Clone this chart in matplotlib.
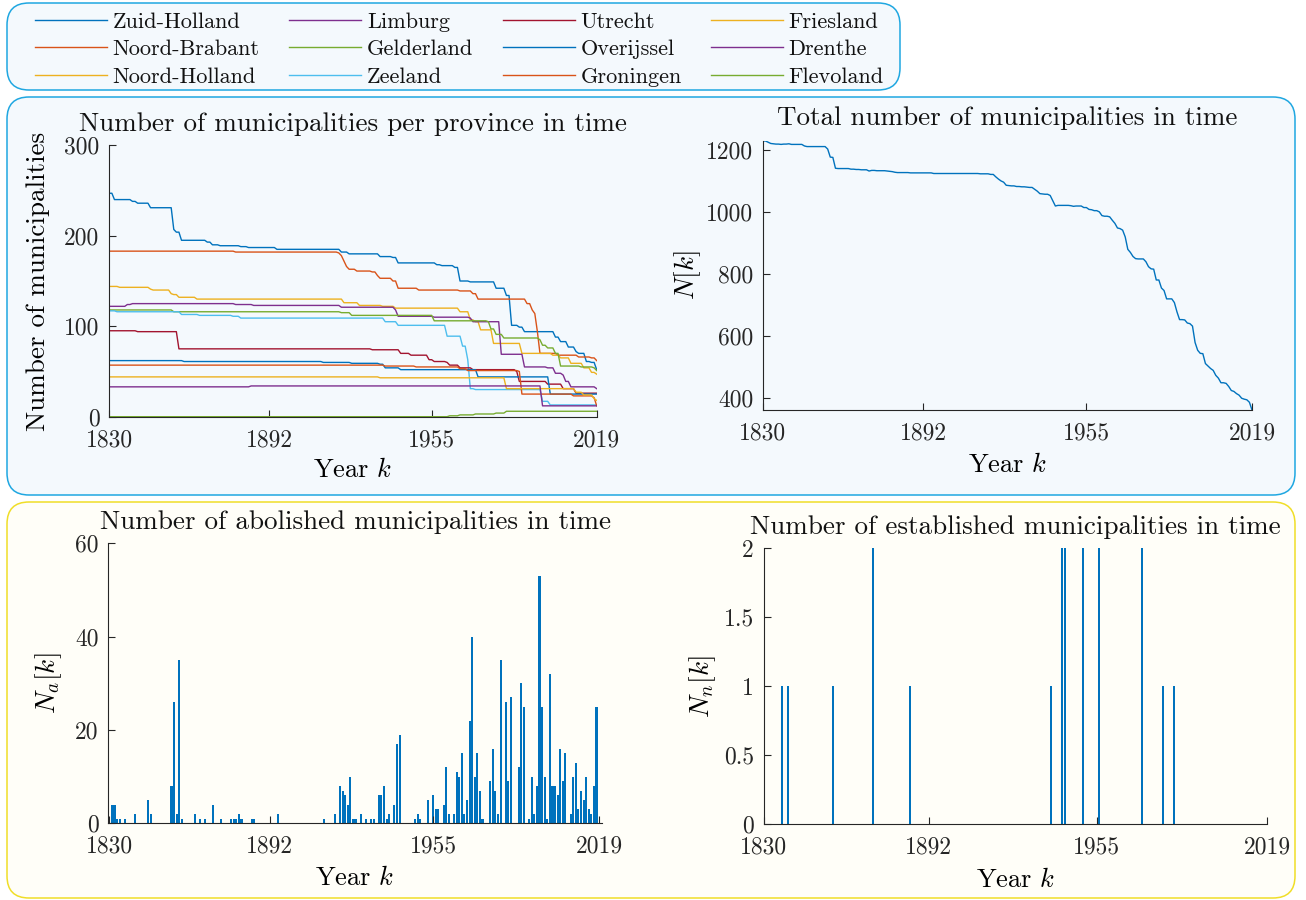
import numpy as np
import matplotlib
matplotlib.use("Agg")
import matplotlib.pyplot as plt
from matplotlib.patches import FancyBboxPatch
from matplotlib.transforms import IdentityTransform

# ---------------------------------------------------------------- data
YEARS = np.arange(1830, 2020)

PROVINCES = ["Zuid-Holland", "Noord-Brabant", "Noord-Holland", "Limburg",
             "Gelderland", "Zeeland", "Utrecht", "Overijssel", "Groningen",
             "Friesland", "Drenthe", "Flevoland"]

# (year from which the count holds, number of municipalities)
zuid_holland_years = [1830, 1832, 1839, 1841, 1846, 1855, 1856, 1858, 1868, 1870,
                      1873, 1881, 1884, 1895, 1920, 1923, 1935, 1940, 1942, 1957,
                      1959, 1964, 1966, 1970, 1980, 1984, 1986, 1989, 1991, 2003,
                      2005, 2008, 2011, 2012, 2015, 2017, 2019]
zuid_holland_counts = [247, 240, 238, 236, 231, 207, 204, 195, 193, 190,
                       189, 188, 187, 185, 182, 180, 177, 176, 170, 168,
                       167, 165, 150, 149, 142, 134, 101, 99, 94, 88,
                       83, 77, 72, 70, 61, 60, 52]

noord_brabant_years = [1830, 1879, 1919, 1920, 1921, 1922, 1923, 1926, 1932, 1934,
                       1935, 1940, 1942, 1950, 1966, 1971, 1973, 1992, 1994, 1995,
                       1996, 1997, 2004, 2012, 2017, 2019]
noord_brabant_counts = [183, 182, 181, 178, 172, 166, 163, 161, 160, 156,
                        153, 150, 142, 140, 139, 136, 130, 125, 118, 114,
                        94, 70, 68, 66, 65, 62]

noord_holland_years = [1830, 1834, 1846, 1847, 1854, 1855, 1857, 1864, 1921, 1927,
                       1936, 1941, 1966, 1970, 1972, 1974, 1979, 1990, 2002, 2005,
                       2009, 2014, 2017, 2019]
noord_holland_counts = [144, 143, 141, 140, 136, 135, 132, 130, 126, 123,
                        122, 120, 116, 107, 105, 96, 81, 70, 68, 65,
                        59, 54, 49, 47]

limburg_years = [1830, 1837, 1839, 1879, 1886, 1920, 1941, 1942, 1956, 1970,
                 1971, 1982, 1991, 2000, 2003, 2006, 2007, 2009, 2019]
limburg_counts = [122, 124, 125, 124, 123, 121, 118, 111, 110, 109,
                  105, 69, 55, 54, 48, 46, 39, 33, 31]

gelderland_years = [1830, 1855, 1920, 1924, 1956, 1977, 1978, 1980, 1983, 1997,
                    1998, 2000, 2003, 2005, 2013, 2018, 2019]
gelderland_counts = [118, 116, 115, 112, 106, 105, 97, 91, 87, 85,
                     79, 76, 70, 56, 55, 54, 51]

zeeland_years = [1830, 1833, 1858, 1865, 1878, 1881, 1937, 1942, 1961, 1967,
                 1969, 1970, 1972, 1998, 2001]
zeeland_counts = [117, 116, 113, 112, 111, 109, 105, 101, 89, 78,
                  63, 31, 30, 17, 13]

utrecht_years = [1830, 1841, 1857, 1932, 1943, 1947, 1954, 1956, 1961, 1962,
                 1966, 1971, 1988, 1989, 2000, 2006, 2011]
utrecht_counts = [95, 94, 75, 74, 70, 68, 63, 61, 60, 57,
                  54, 52, 50, 39, 36, 31, 26]

overijssel_years = [1830, 1859, 1913, 1924, 1935, 1937, 1943, 1973, 2001]
overijssel_counts = [62, 61, 60, 59, 58, 54, 52, 44, 25]

groningen_years = [1830, 1937, 1949, 1966, 1969, 1989, 1990, 2010, 2018, 2019]
groningen_counts = [57, 56, 55, 53, 51, 50, 25, 23, 21, 12]

friesland_years = [1830, 1935, 1984, 2011, 2014, 2018, 2019]
friesland_counts = [44, 43, 31, 27, 24, 20, 18]

drenthe_years = [1830, 1885, 1998]
drenthe_counts = [33, 34, 12]

flevoland_years = [1830, 1962, 1966, 1972, 1980, 1984]
flevoland_counts = [0, 1, 2, 3, 4, 6]

PROVINCE_STEPS = [
    (zuid_holland_years, zuid_holland_counts),
    (noord_brabant_years, noord_brabant_counts),
    (noord_holland_years, noord_holland_counts),
    (limburg_years, limburg_counts),
    (gelderland_years, gelderland_counts),
    (zeeland_years, zeeland_counts),
    (utrecht_years, utrecht_counts),
    (overijssel_years, overijssel_counts),
    (groningen_years, groningen_counts),
    (friesland_years, friesland_counts),
    (drenthe_years, drenthe_counts),
    (flevoland_years, flevoland_counts),
]

# municipalities abolished per year
abolished_years = [1831, 1832, 1833, 1834, 1836, 1840, 1845, 1846, 1854, 1855,
                   1856, 1857, 1858, 1863, 1865, 1867, 1870, 1873, 1877, 1878,
                   1879, 1880, 1881, 1885, 1886, 1895, 1913, 1917, 1919, 1920,
                   1921, 1922, 1923, 1924, 1925, 1927, 1929, 1931, 1932, 1934,
                   1935, 1936, 1937, 1938, 1940, 1941, 1942, 1948, 1949, 1950,
                   1953, 1955, 1956, 1957, 1959, 1960, 1961, 1963, 1964, 1965,
                   1966, 1967, 1968, 1969, 1970, 1971, 1972, 1973, 1974, 1977,
                   1978, 1979, 1980, 1981, 1983, 1984, 1985, 1988, 1989, 1990,
                   1992, 1993, 1994, 1995, 1996, 1997, 1998, 1999, 2000, 2001,
                   2002, 2003, 2004, 2005, 2006, 2008, 2009, 2010, 2011, 2012,
                   2013, 2014, 2015, 2016, 2017, 2018]
abolished_counts = [4, 4, 1, 1, 1, 2, 5, 2, 8, 26,
                    2, 35, 1, 2, 1, 1, 4, 1, 1, 1,
                    1, 2, 1, 1, 1, 2, 1, 2, 8, 7,
                    6, 4, 10, 1, 1, 2, 1, 1, 1, 6,
                    6, 8, 1, 2, 4, 17, 19, 1, 2, 1,
                    5, 6, 3, 3, 4, 12, 2, 2, 11, 10,
                    15, 2, 5, 22, 40, 10, 15, 7, 1, 9,
                    16, 7, 2, 35, 26, 9, 27, 12, 30, 25,
                    1, 10, 2, 8, 53, 25, 10, 1, 32, 8,
                    8, 6, 16, 9, 15, 2, 10, 13, 3, 7,
                    5, 10, 3, 2, 8, 25]

# municipalities established per year
established_years = [1837, 1839, 1856, 1871, 1885, 1938, 1942, 1943, 1950, 1956,
                     1972, 1980, 1984]
established_counts = [1, 1, 1, 2, 1, 1, 2, 2, 2, 2,
                      2, 1, 1]

TOTAL_1830 = 1229

YEAR_TICKS = [1830, 1892, 1955, 2019]
YEAR_TICK_LABELS = ["1830", "1892", "1955", "2019"]

COLORS = ["#0072BD", "#D95319", "#EDB120", "#7E2F8E", "#77AC30", "#4DBEEE",
          "#A2142F", "#0072BD", "#D95319", "#EDB120", "#7E2F8E", "#77AC30"]

# ---------------------------------------------------------------- style
W, H, DPI = 1306, 900, 100
plt.rcParams.update({
    "font.family": "serif",
    "font.serif": ["cmr10"],
    "mathtext.fontset": "cm",
    "axes.unicode_minus": False,
    "axes.formatter.use_mathtext": True,
    "axes.linewidth": 0.8,
    "xtick.color": "#262626",
    "ytick.color": "#262626",
    "text.color": "#111111",
})
TICK_FS = 17
TITLE_FS = 19.5
LABEL_FS = 19
LEGEND_FS = 16
AX_COLOR = "#262626"

fig = plt.figure(figsize=(W / DPI, H / DPI), dpi=DPI)
fig.patch.set_facecolor("white")


def panel(x0, y0, x1, y1, face, edge, radius):
    box = FancyBboxPatch((x0, H - y1), x1 - x0, y1 - y0,
                         boxstyle=f"round,pad=0,rounding_size={radius}",
                         facecolor=face, edgecolor=edge, linewidth=1.1,
                         transform=IdentityTransform(), zorder=-5)
    fig.add_artist(box)


panel(7, 3, 900, 90, "#F4F9FD", "#1FA7E1", 22)
panel(7, 97, 1295, 495, "#F4F9FD", "#1FA7E1", 22)
panel(7, 502, 1295, 898, "#FFFEF8", "#F0DE28", 22)


def px_axes(left, top, right, bottom):
    ax = fig.add_axes([left / W, 1 - bottom / H, (right - left) / W, (bottom - top) / H])
    ax.set_facecolor("none")
    for side in ("top", "right"):
        ax.spines[side].set_visible(False)
    for side in ("left", "bottom"):
        ax.spines[side].set_color(AX_COLOR)
    ax.tick_params(direction="in", length=5, width=0.8, labelsize=TICK_FS, pad=7)
    ax.tick_params(axis="x", pad=9)
    return ax, right - left, bottom - top


def decorate(ax, w, h, title, ylabel, title_gap, xlab_gap, ylab_gap):
    ax.set_title(title, fontsize=TITLE_FS, pad=title_gap)
    ax.set_xlabel(r"Year $k$", fontsize=LABEL_FS, va="center")
    ax.xaxis.set_label_coords(0.5, -xlab_gap / h)
    ax.set_ylabel(ylabel, fontsize=TITLE_FS, va="center")
    ax.yaxis.set_label_coords(-ylab_gap / w, 0.5)


def hold(years, counts):
    idx = np.searchsorted(np.asarray(years), YEARS, side="right") - 1
    return np.asarray(counts)[idx]


def per_year(years, counts):
    out = np.zeros(len(YEARS))
    out[np.asarray(years) - YEARS[0]] = counts
    return out


abolished = per_year(abolished_years, abolished_counts)
established = per_year(established_years, established_counts)
total = TOTAL_1830 + np.concatenate(([0], np.cumsum(established - abolished)[:-1]))

# ------------------------------------------------ municipalities per province
ax1, w1, h1 = px_axes(109.3, 145.3, 596.7, 416.7)
lines = []
for (yrs, cnt), color, name in zip(PROVINCE_STEPS, COLORS, PROVINCES):
    ln, = ax1.plot(YEARS, hold(yrs, cnt), color=color, lw=1.0, label=name)
    lines.append(ln)
ax1.set_xlim(1830, 2019)
ax1.set_ylim(0, 300)
ax1.set_yticks([0, 100, 200, 300])
ax1.set_yticklabels(["0", "100", "200", "300"])
ax1.set_xticks(YEAR_TICKS)
ax1.set_xticklabels(YEAR_TICK_LABELS)
decorate(ax1, w1, h1, "Number of municipalities per province in time",
         "Number of municipalities", 10.5, 53, 71)

# ------------------------------------------------ total number
ax2, w2, h2 = px_axes(763, 141, 1252, 410)
ax2.plot(YEARS, total, color="#0072BD", lw=1.0)
ax2.set_xlim(1830, 2019)
ax2.set_ylim(total.min(), total.max())
ax2.set_yticks([400, 600, 800, 1000, 1200])
ax2.set_yticklabels(["400", "600", "800", "1000", "1200"])
ax2.set_xticks(YEAR_TICKS)
ax2.set_xticklabels(YEAR_TICK_LABELS)
decorate(ax2, w2, h2, "Total number of municipalities in time",
         r"$N[k]$", 11.5, 55, 75)

# ------------------------------------------------ abolished per year
ax3, w3, h3 = px_axes(108.3, 543.3, 601.7, 823.3)
ax3.bar(abolished_years, abolished_counts, width=0.8, color="#0072BD", linewidth=0)
ax3.set_xlim(1829.6, 2020)
ax3.set_ylim(0, 60)
ax3.set_yticks([0, 20, 40, 60])
ax3.set_yticklabels(["0", "20", "40", "60"])
ax3.set_xticks(YEAR_TICKS)
ax3.set_xticklabels(YEAR_TICK_LABELS)
decorate(ax3, w3, h3, "Number of abolished municipalities in time",
         r"$N_a[k]$", 10.5, 55, 60)

# ------------------------------------------------ established per year
ax4, w4, h4 = px_axes(763.7, 548.3, 1267, 824.3)
ax4.bar(established_years, established_counts, width=0.75, color="#0072BD", linewidth=0)
ax4.set_xlim(1830, 2019)
ax4.set_ylim(0, 2)
ax4.set_yticks([0, 0.5, 1, 1.5, 2])
ax4.set_yticklabels(["0", "0.5", "1", "1.5", "2"])
ax4.set_xticks(YEAR_TICKS)
ax4.set_xticklabels(YEAR_TICK_LABELS)
decorate(ax4, w4, h4, "Number of established municipalities in time",
         r"$N_n[k]$", 10.5, 56, 61)

# ------------------------------------------------ legend
fig.legend(handles=lines, labels=PROVINCES, ncol=4, loc="upper left",
           bbox_to_anchor=(35 / W, 1 - 12 / H), frameon=False, fontsize=LEGEND_FS,
           handlelength=3.25, handletextpad=0.25, columnspacing=1.32,
           labelspacing=0.36, borderaxespad=0, borderpad=0)

fig.savefig("out.png", dpi=DPI)
